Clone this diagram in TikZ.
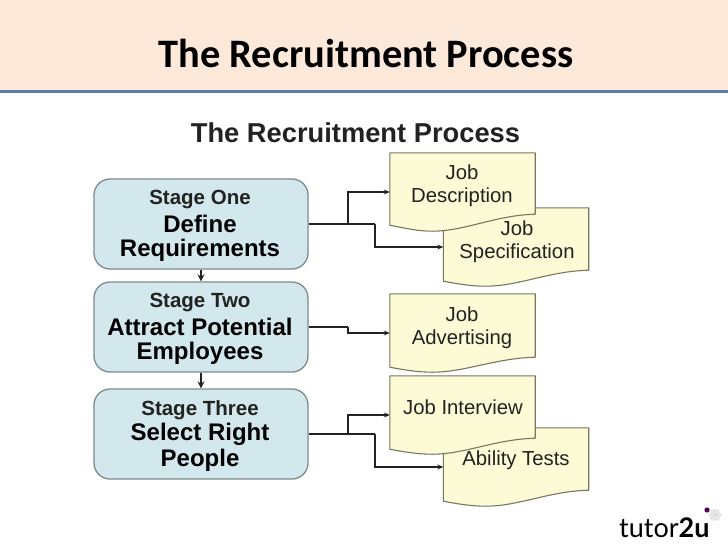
\documentclass[tikz,border=0pt]{standalone}
\usepackage{fontspec}
\setmainfont{Liberation Sans}
\newfontfamily\headfont{Carlito}
\newfontfamily\logofont{Lato}
\usetikzlibrary{arrows.meta}
\definecolor{bandc}{HTML}{FDE9D9}
\definecolor{rulec}{HTML}{5F7FA8}
\definecolor{stagec}{HTML}{D3E8ED}
\definecolor{stagedraw}{HTML}{7E8A8C}
\definecolor{docc}{HTML}{FCFBD6}
\definecolor{docdraw}{HTML}{77775F}
\definecolor{inkc}{HTML}{222222}
\tikzset{
  stagebox/.style={draw=stagedraw,line width=1.3pt,fill=stagec,rounded corners=16pt,minimum width=214pt,minimum height=90pt,inner sep=0pt},
  docbox/.style={minimum width=145pt,minimum height=78pt,inner sep=0pt},
  docpath/.style={draw=docdraw,line width=1.1pt,fill=docc,line join=round},
  doctext/.style={font=\fontsize{20.3}{23}\selectfont,text=inkc,align=center,inner sep=0pt},
  stagetop/.style={font=\bfseries\fontsize{20.5}{24}\selectfont,text=inkc,inner sep=0pt},
  stagemain/.style={font=\bfseries\fontsize{24}{28}\selectfont,text=black,inner sep=0pt},
  link/.style={draw=inkc,line width=1.3pt},
  linkarrow/.style={link,-{Stealth[length=6pt,width=5pt]}},
  downarrow/.style={draw=inkc,line width=1.7pt,-{Stealth[length=7pt,width=7pt]}}
}
% name, centre x, centre y, height of right bottom above the lowest point, height of left bottom above it
\newcommand{\docshape}[5]{%
  \node[docbox] (#1) at (#2,#3) {};
  \path[docpath] (#1.north west) -- (#1.north east) -- ([yshift=#4pt]#1.south east)
    .. controls ([xshift=-40pt,yshift=#4pt-1pt]#1.south east) and ([xshift=-70pt]#1.south east) .. ([xshift=-103pt]#1.south east)
    .. controls ([xshift=-118pt]#1.south east) and ([xshift=-132pt,yshift=#5pt-2.5pt]#1.south east) .. ([yshift=#5pt]#1.south west) -- cycle;
}
\begin{document}
\begin{tikzpicture}[x=1pt,y=-1pt]
\useasboundingbox (0,0) rectangle (728,546);
\fill[white] (0,0) rectangle (728,546);
\fill[bandc] (0,0) rectangle (728,90);
\fill[rulec] (0,90) rectangle (728,92.5);
\node[font=\headfont\bfseries\fontsize{40.4}{44}\selectfont,text=black,inner sep=0pt] (head) at (366,53) {The Recruitment Process};
\node[font=\bfseries\fontsize{27.3}{30}\selectfont,text=inkc,inner sep=0pt] (sub) at (355.5,133) {The Recruitment Process};

\node[stagebox] (s1) at (201,224) {};
\node[stagebox] (s2) at (201,327) {};
\node[stagebox] (s3) at (201,434) {};
\node[stagetop] (s1a) at (200,200) {Stage One};
\node[stagemain] (s1b) at (200,224) {Define};
\node[stagemain] (s1c) at (200,250) {Requirements};
\node[stagetop] (s2a) at (200,303) {Stage Two};
\node[stagemain] (s2b) at (200,327) {Attract Potential};
\node[stagemain] (s2c) at (200,353) {Employees};
\node[stagetop] (s3a) at (200,410) {Stage Three};
\node[stagemain] (s3b) at (200,434) {Select Right};
\node[stagemain] (s3c) at (200,460) {People};

\docshape{d2}{516}{247}{16}{5}
\docshape{d1}{462.5}{192}{17}{6}
\docshape{d3}{462.5}{333}{15}{5}
\docshape{d5}{516}{467}{16}{5}
\docshape{d4}{462.5}{415}{16}{5}
\node[doctext] (t1) at (462,186) {Job\\Description};
\node[doctext] (t2) at (517,241.5) {Job\\Specification};
\node[doctext] (t3) at (462,327.5) {Job\\Advertising};
\node[doctext] (t4) at (463,407.5) {Job Interview};
\node[doctext] (t5) at (516,460.5) {Ability Tests};

\coordinate (b1a) at (348,224);
\coordinate (b1b) at (375,224);
\coordinate (b2a) at (348,327);
\coordinate (b3a) at (348,434);
\coordinate (b3b) at (375,434);
\draw[link] (s1.east) -- (b1b);
\draw[linkarrow] (b1a) |- (d1.west);
\draw[linkarrow] (b1b) |- (d2.west);
\draw[link] (s2.east) -- (b2a);
\draw[linkarrow] (b2a) |- (d3.west);
\draw[link] (s3.east) -- (b3b);
\draw[linkarrow] (b3a) |- (d4.west);
\draw[linkarrow] (b3b) |- (d5.west);
\draw[downarrow] (s1.south) -- (s2.north);
\draw[downarrow] (s2.south) -- (s3.north);

\node[font=\logofont\fontsize{27}{30}\selectfont,text=black,inner sep=0pt,anchor=base west] (logo) at (619,537) {tutor\textbf{2u}};
\foreach \a in {0,60,...,300}
  \fill[white!85!gray,draw=gray!40,line width=.3pt] (715,515)++(\a:3.2) circle (2.6);
\fill[violet!70!black] (707,510) circle (2.6);
\end{tikzpicture}
\end{document}
